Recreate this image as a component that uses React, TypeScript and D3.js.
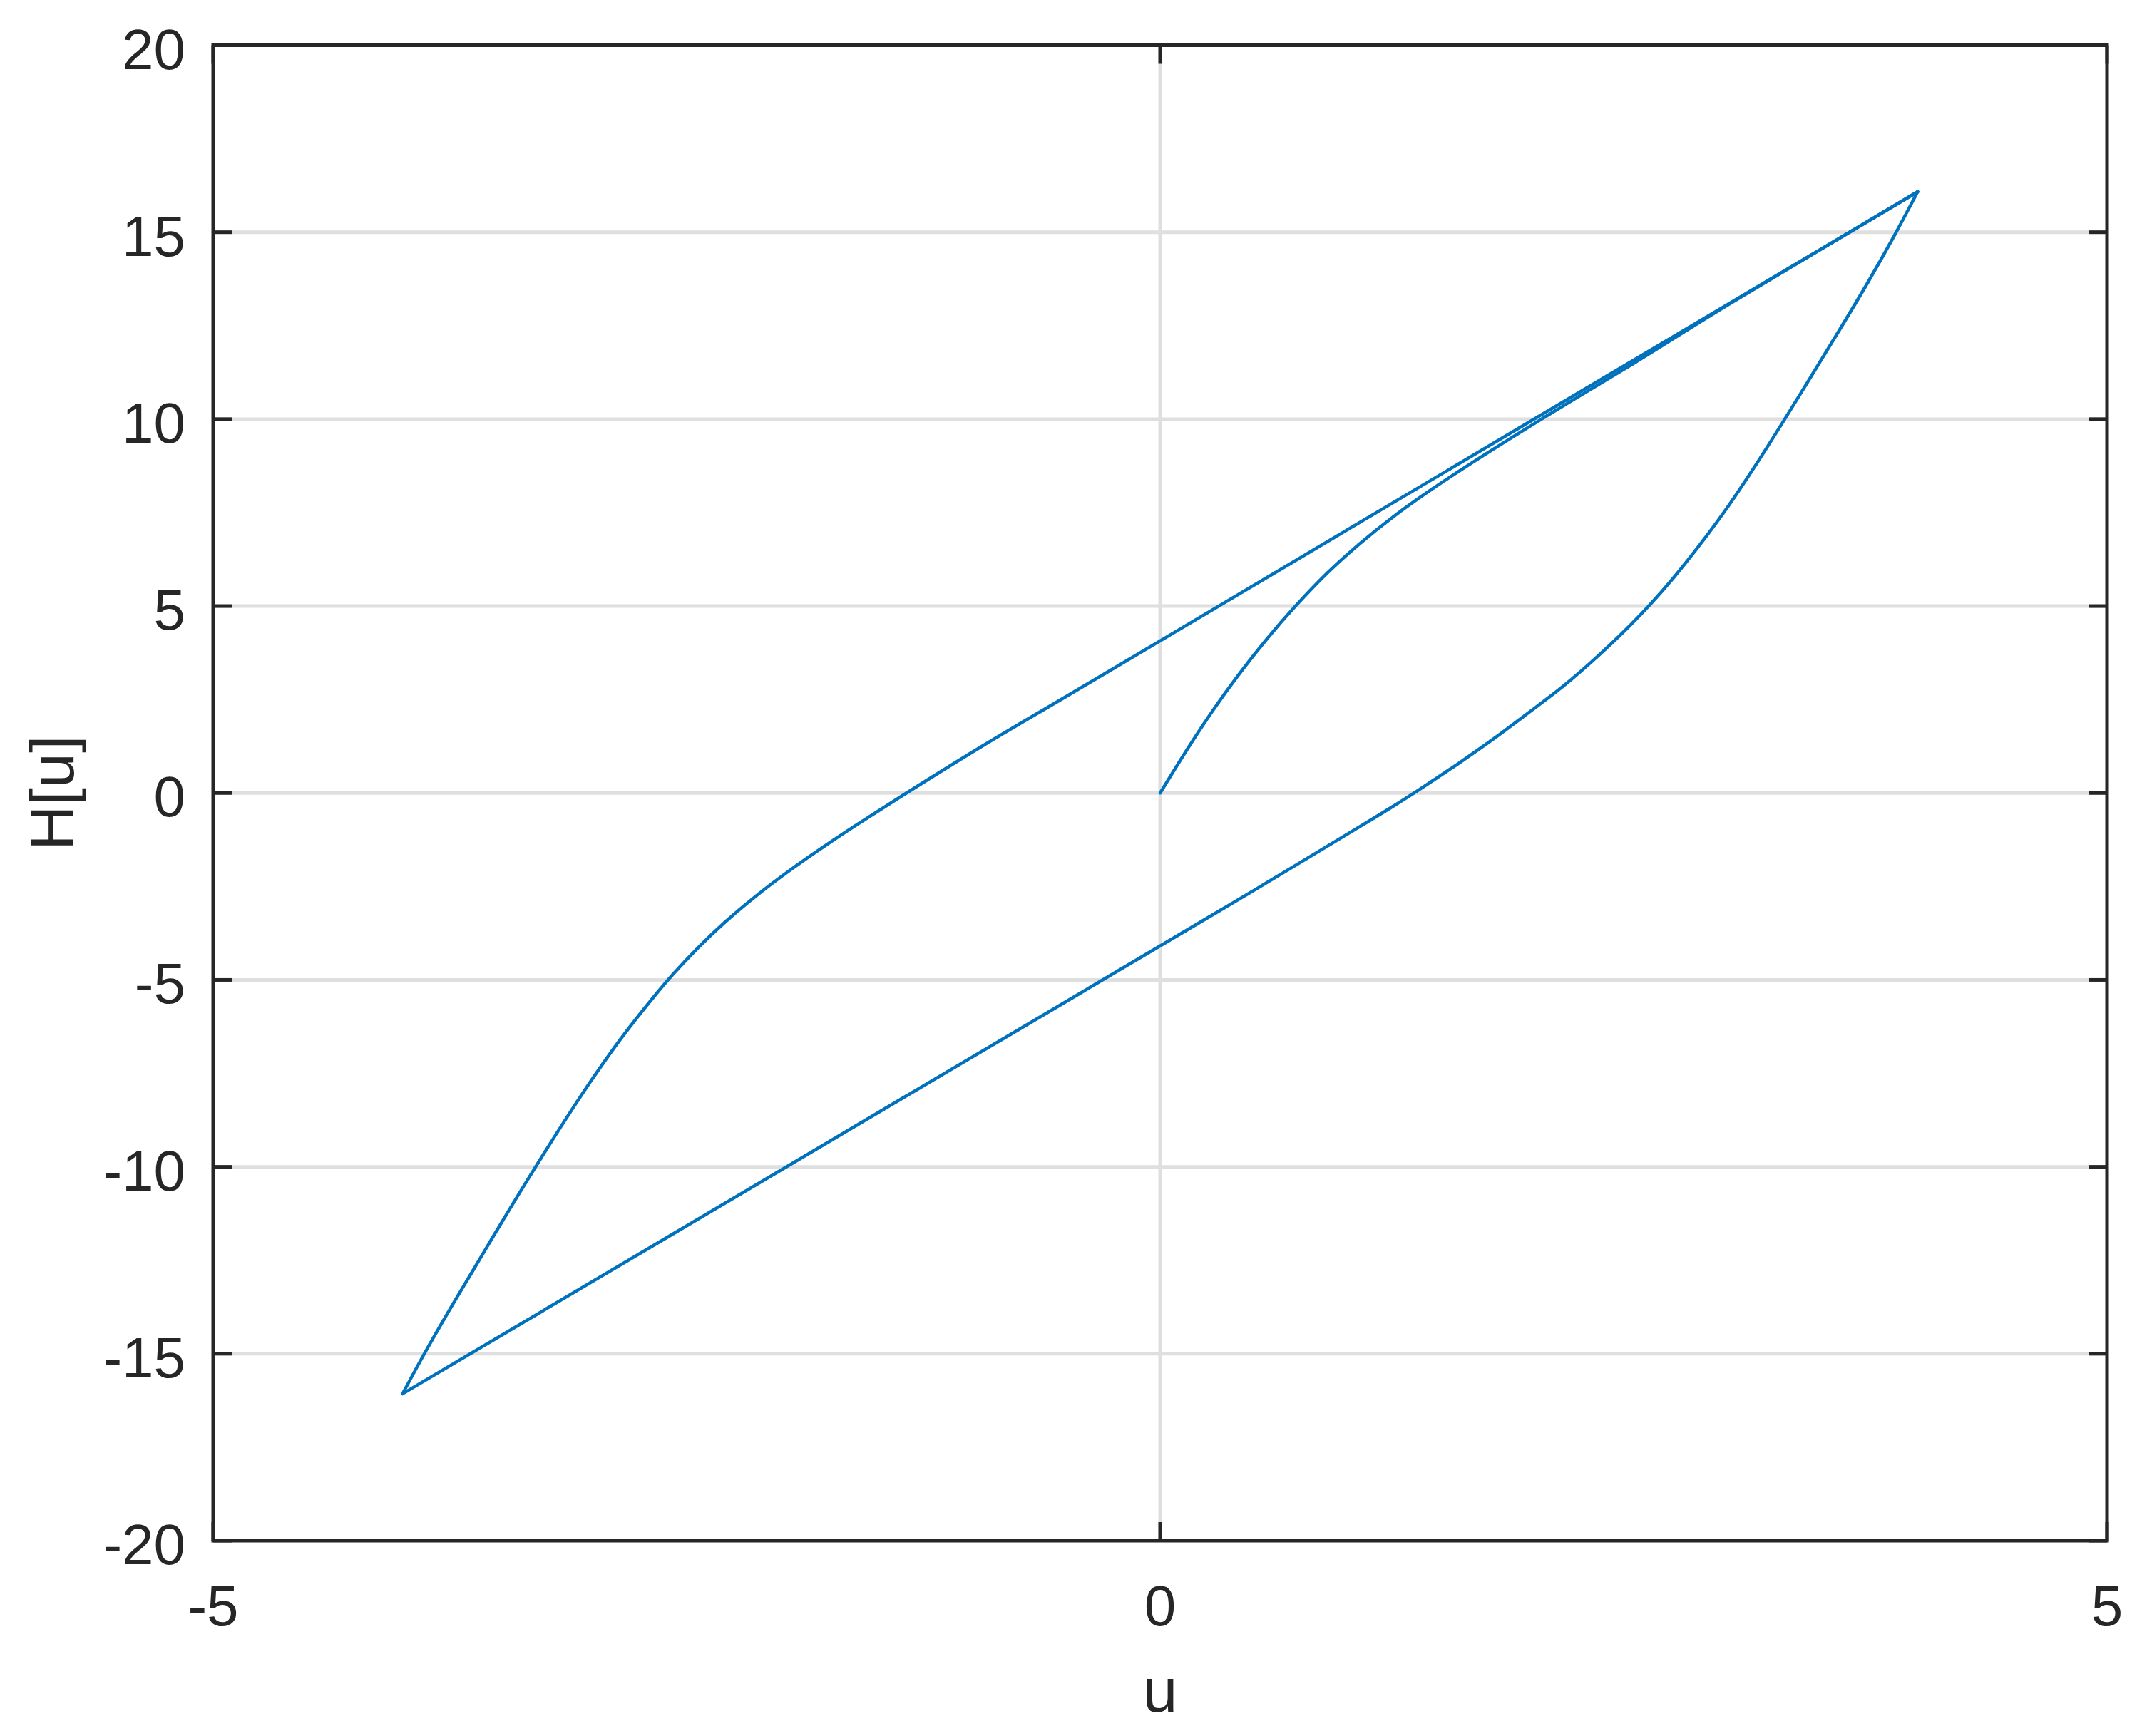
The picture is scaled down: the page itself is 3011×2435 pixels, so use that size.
import React, { useEffect, useRef } from 'react';
import * as d3 from 'd3';

const WIDTH = 3011;
const HEIGHT = 2435;

// virgin curve from the origin up onto the upper branch, then on to the peak
const virginU = [0, 0.142, 0.276, 0.411, 0.562, 0.713, 0.882, 1.05, 1.234, 1.436, 1.655, 1.823, 1.991, 2.176, 2.5, 3.0, 4.0];
const virginH = [0, 1.16, 2.19, 3.14, 4.11, 4.99, 5.88, 6.65, 7.4, 8.13, 8.86, 9.4, 9.93, 10.5, 11.49, 13.06, 16.08];

// from the right tip down the steep curve, then along the lower straight part
const fallU = [4.0, 3.881, 3.735, 3.589, 3.443, 3.297, 3.151, 3.005, 2.859, 2.713, 2.585, 2.457, 2.311, 2.129, 1.946, 1.764, 1.581, 1.362, 1.216, 1.028, 0.5, 0, -0.784, -1.382, -4.0];
const fallH = [16.08, 14.95, 13.64, 12.4, 11.19, 9.99, 8.82, 7.71, 6.7, 5.77, 5.03, 4.36, 3.66, 2.86, 2.15, 1.46, 0.81, 0.07, -0.4, -0.98, -2.59, -4.09, -6.44, -8.23, -16.07];

// from the left tip up the steep curve, then along the upper straight part
const riseU = [-4.0, -3.883, -3.748, -3.622, -3.513, -3.395, -3.278, -3.143, -3.009, -2.841, -2.673, -2.572, -2.438, -2.303, -2.13, -1.95, -1.76, -1.608, -1.339, -0.944, -0.5, 0, 0.982, 4.0];
const riseH = [-16.07, -14.98, -13.79, -12.72, -11.79, -10.8, -9.84, -8.76, -7.73, -6.53, -5.45, -4.85, -4.13, -3.48, -2.74, -2.05, -1.38, -0.87, 0, 1.24, 2.57, 4.07, 7.02, 16.08];

const xTicks = [-5, 0, 5];
const yTicks = [-20, -15, -10, -5, 0, 5, 10, 15, 20];
const xGrid = [0];
const yGrid = [-15, -10, -5, 0, 5, 10, 15];

const FONT = '"Liberation Sans", Arial, Helvetica, sans-serif';
const INK = '#262626';

const App = () => {
  const ref = useRef<SVGSVGElement | null>(null);

  useEffect(() => {
    const svg = d3.select(ref.current);
    svg.selectAll('*').remove();

    const left = 299;
    const right = 2955;
    const top = 63.5;
    const bottom = 2161;
    const tick = 26;

    const x = d3.scaleLinear().domain([-5, 5]).range([left, right]);
    const y = d3.scaleLinear().domain([-20, 20]).range([bottom, top]);

    svg.append('rect').attr('width', WIDTH).attr('height', HEIGHT).attr('fill', '#ffffff');

    // grid
    const grid = svg.append('g').attr('stroke', '#dfdfdf').attr('stroke-width', 5);
    grid
      .selectAll('line.gy')
      .data(yGrid)
      .enter()
      .append('line')
      .attr('x1', left)
      .attr('x2', right)
      .attr('y1', (d) => y(d))
      .attr('y2', (d) => y(d));
    grid
      .selectAll('line.gx')
      .data(xGrid)
      .enter()
      .append('line')
      .attr('x1', (d) => x(d))
      .attr('x2', (d) => x(d))
      .attr('y1', top)
      .attr('y2', bottom);

    // loop
    const line = d3
      .line<[number, number]>()
      .x((d) => x(d[0]))
      .y((d) => y(d[1]))
      .curve(d3.curveCatmullRom.alpha(0.5));

    const branches: [number[], number[]][] = [
      [virginU, virginH],
      [fallU, fallH],
      [riseU, riseH],
    ];
    svg
      .append('g')
      .selectAll('path')
      .data(branches)
      .enter()
      .append('path')
      .attr('d', ([us, hs]) => line(us.map((u, i) => [u, hs[i]] as [number, number])))
      .attr('fill', 'none')
      .attr('stroke', '#0072bd')
      .attr('stroke-width', 4.5)
      .attr('stroke-linejoin', 'round')
      .attr('stroke-linecap', 'round');

    // box and ticks
    const axes = svg.append('g').attr('stroke', INK).attr('stroke-width', 5).attr('fill', 'none');
    axes
      .append('rect')
      .attr('x', left)
      .attr('y', top)
      .attr('width', right - left)
      .attr('height', bottom - top)
      .attr('stroke-linejoin', 'miter');

    xTicks.forEach((t) => {
      axes.append('line').attr('x1', x(t)).attr('x2', x(t)).attr('y1', bottom).attr('y2', bottom - tick);
      axes.append('line').attr('x1', x(t)).attr('x2', x(t)).attr('y1', top).attr('y2', top + tick);
    });
    yTicks.forEach((t) => {
      axes.append('line').attr('x1', left).attr('x2', left + tick).attr('y1', y(t)).attr('y2', y(t));
      axes.append('line').attr('x1', right).attr('x2', right - tick).attr('y1', y(t)).attr('y2', y(t));
    });

    // tick labels
    svg
      .append('g')
      .selectAll('text')
      .data(xTicks)
      .enter()
      .append('text')
      .attr('x', (d) => x(d))
      .attr('y', 2280)
      .attr('text-anchor', 'middle')
      .style('font-family', FONT)
      .style('font-size', '80px')
      .attr('fill', INK)
      .text((d) => String(d));

    svg
      .append('g')
      .selectAll('text')
      .data(yTicks)
      .enter()
      .append('text')
      .attr('x', 260)
      .attr('y', (d) => y(d) + 33)
      .attr('text-anchor', 'end')
      .style('font-family', FONT)
      .style('font-size', '80px')
      .attr('fill', INK)
      .text((d) => String(d));

    // axis labels
    svg
      .append('text')
      .attr('x', (left + right) / 2)
      .attr('y', 2401)
      .attr('text-anchor', 'middle')
      .style('font-family', FONT)
      .style('font-size', '88px')
      .attr('fill', INK)
      .text('u');

    svg
      .append('text')
      .attr('transform', `translate(103, ${(top + bottom) / 2}) rotate(-90)`)
      .attr('text-anchor', 'middle')
      .style('font-family', FONT)
      .style('font-size', '88px')
      .attr('fill', INK)
      .text('H[u]');
  }, []);

  return (
    <svg
      ref={ref}
      width={WIDTH}
      height={HEIGHT}
      style={{ position: 'absolute', left: 0, top: 0, display: 'block' }}
    />
  );
};

export default App;
